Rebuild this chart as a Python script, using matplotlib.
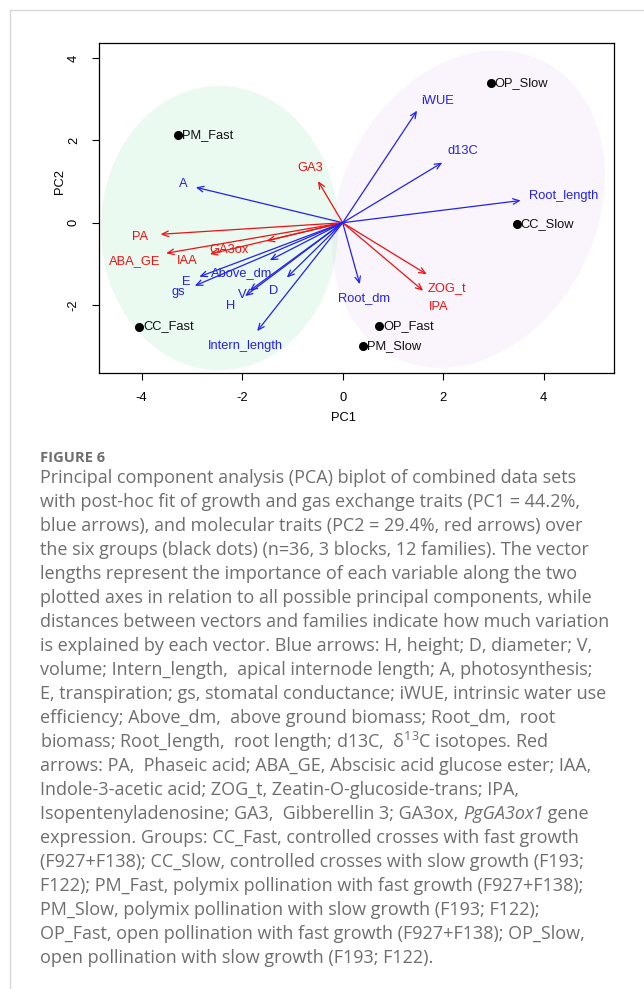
import matplotlib
matplotlib.use('Agg')
import matplotlib.pyplot as plt
import numpy as np
from matplotlib.patches import Ellipse
from matplotlib.lines import Line2D

# group centroids (PC1, PC2)
groups = ['PM_Fast', 'OP_Slow', 'CC_Slow', 'CC_Fast', 'OP_Fast', 'PM_Slow']
group_x = [-3.27, 2.94, 3.46, -4.05, 0.73, 0.41]
group_y = [2.13, 3.40, -0.04, -2.52, -2.50, -2.99]

# growth / gas exchange vectors (blue)
blue_vars = ['iWUE', 'd13C', 'Root_length', 'A', 'Root_dm', 'Intern_length',
             'E', 'gs', 'Above_dm', 'V', 'D', 'H']
blue_x = [1.48, 1.98, 3.54, -2.92, 0.34, -1.70, -2.85, -2.94, -1.45, -1.94, -1.11, -1.85]
blue_y = [2.72, 1.46, 0.54, 0.86, -1.49, -2.63, -1.31, -1.53, -0.91, -1.78, -1.33, -1.65]
blue_lab_x = [1.88, 2.40, 4.40, -3.16, 0.42, -1.94, -3.12, -3.27, -2.01, -1.99, -1.38, -2.23]
blue_lab_y = [2.95, 1.74, 0.66, 0.93, -1.82, -2.99, -1.43, -1.67, -1.21, -1.75, -1.65, -2.01]

# molecular vectors (red)
red_vars = ['PA', 'ABA_GE', 'IAA', 'GA3ox', 'GA3', 'ZOG_t', 'IPA']
red_x = [-3.62, -3.51, -2.64, -1.51, -0.49, 1.67, 1.60]
red_y = [-0.28, -0.74, -0.76, -0.44, 1.01, -1.25, -1.65]
red_lab_x = [-4.02, -4.13, -3.10, -2.25, -0.65, 2.07, 1.90]
red_lab_y = [-0.35, -0.92, -0.93, -0.66, 1.32, -1.59, -2.04]

# group ellipses: centre and two conjugate semi-axes (data units)
fast_centre = (-2.45, -0.13)
fast_axes = [(2.36, 0.0), (0.0, 3.45)]
slow_centre = (2.50, 0.33)
slow_axes = [(1.49, 3.59), (2.27, -1.40)]

xticks = [-4, -2, 0, 2, 4]
yticks = [-2, 0, 2, 4]

caption_head = 'FIGURE 6'
caption_lines = [
    'Principal component analysis (PCA) biplot of combined data sets',
    'with post-hoc fit of growth and gas exchange traits (PC1 = 44.2%,',
    'blue arrows), and molecular traits (PC2 = 29.4%, red arrows) over',
    'the six groups (black dots) (n=36, 3 blocks, 12 families). The vector',
    'lengths represent the importance of each variable along the two',
    'plotted axes in relation to all possible principal components, while',
    'distances between vectors and families indicate how much variation',
    'is explained by each vector. Blue arrows: H, height; D, diameter; V,',
    'volume; Intern_length,  apical internode length; A, photosynthesis;',
    'E, transpiration; gs, stomatal conductance; iWUE, intrinsic water use',
    'efficiency; Above_dm,  above ground biomass; Root_dm,  root',
    'biomass; Root_length,  root length; d13C,  $\\mathregular{\\delta^{13}}$C isotopes. Red',
    'arrows: PA,  Phaseic acid; ABA_GE, Abscisic acid glucose ester; IAA,',
    'Indole-3-acetic acid; ZOG_t, Zeatin-O-glucoside-trans; IPA,',
    ['Isopentenyladenosine; GA3,  Gibberellin 3; GA3ox, ', 'PgGA3ox1', ' gene'],
    'expression. Groups: CC_Fast, controlled crosses with fast growth',
    '(F927+F138); CC_Slow, controlled crosses with slow growth (F193;',
    'F122); PM_Fast, polymix pollination with fast growth (F927+F138);',
    'PM_Slow, polymix pollination with slow growth (F193; F122);',
    'OP_Fast, open pollination with fast growth (F927+F138); OP_Slow,',
    'open pollination with slow growth (F193; F122).',
]

plt.rcParams['font.family'] = ['Liberation Sans', 'DejaVu Sans']
plt.rcParams['mathtext.fontset'] = 'custom'
plt.rcParams['mathtext.rm'] = 'Open Sans'
plt.rcParams['mathtext.it'] = 'Open Sans:italic'

W, H = 644, 989
fig = plt.figure(figsize=(W / 100, H / 100), dpi=100)
ax = fig.add_axes([99.3 / W, 1 - 372.7 / H, (613.7 - 99.3) / W, (372.7 - 42.7) / H])
ax.set_xlim(-4.84, 5.39)
ax.set_ylim(-3.64, 4.37)

def fill_ellipse(centre, axes, col, alpha):
    t = np.linspace(0, 2 * np.pi, 200)
    (ux, uy), (vx, vy) = axes
    ex = centre[0] + ux * np.cos(t) + vx * np.sin(t)
    ey = centre[1] + uy * np.cos(t) + vy * np.sin(t)
    ax.fill(ex, ey, color=col, alpha=alpha, lw=0, zorder=0)

fill_ellipse(fast_centre, fast_axes, (0.55, 0.90, 0.70), 0.18)
fill_ellipse(slow_centre, slow_axes, (0.75, 0.45, 0.85), 0.07)

def draw_vectors(xs, ys, lx, ly, names, col):
    for x, y, tx, ty, n in zip(xs, ys, lx, ly, names):
        ax.annotate('', xy=(x, y), xytext=(0, 0),
                    arrowprops=dict(arrowstyle='->,head_length=0.45,head_width=0.2',
                                    color=col, lw=0.9, shrinkA=0, shrinkB=0))
        ax.text(tx, ty, n, color=col, fontsize=9.3, ha='center', va='center')

draw_vectors(red_x, red_y, red_lab_x, red_lab_y, red_vars, '#ee1111')
draw_vectors(blue_x, blue_y, blue_lab_x, blue_lab_y, blue_vars, '#2222ee')

ax.plot(group_x, group_y, 'o', color='black', markersize=5.5)
for x, y, n in zip(group_x, group_y, groups):
    ax.annotate(n, (x, y), xytext=(3, 0), textcoords='offset points',
                fontsize=9.3, va='center', ha='left', color='#111111')

ax.set_xticks(xticks)
ax.set_yticks(yticks)
ax.set_xticklabels([str(t) for t in xticks])
ax.set_yticklabels([str(t) for t in yticks], rotation=90, va='center')
ax.tick_params(direction='out', length=5, width=0.8, labelsize=9.3, pad=9)
for s in ax.spines.values():
    s.set_linewidth(0.9)

fig.text(343 / W, 1 - 418 / H, 'PC1', fontsize=9.3, ha='center', va='center')
fig.text(60 / W, 1 - 182 / H, 'PC2', fontsize=9.3, ha='center', va='center', rotation=90)

# page frame
fig.add_artist(Line2D([10 / W, 10 / W], [0, 1 - 10 / H], color='#d8d8d8', lw=1))
fig.add_artist(Line2D([10 / W, 1], [1 - 10 / H, 1 - 10 / H], color='#d8d8d8', lw=1))

# caption
cap_col = '#6e6e6e'
cap_font = ['Open Sans', 'DejaVu Sans']
fig.text(40 / W, 1 - 458 / H, caption_head, fontsize=10.6, color=cap_col,
         fontweight='bold', family=cap_font, va='center')
renderer = fig.canvas.get_renderer()
for i, line in enumerate(caption_lines):
    y = 1 - (478 + 24 * i) / H
    if isinstance(line, list):
        x = 40 / W
        for j, part in enumerate(line):
            t = fig.text(x, y, part, fontsize=13, color=cap_col, family=cap_font,
                         va='center', style='italic' if j == 1 else 'normal')
            bb = t.get_window_extent(renderer)
            x = bb.x1 / W
    else:
        fig.text(40 / W, y, line, fontsize=13, color=cap_col, family=cap_font, va='center')

fig.savefig('out.png', dpi=100)
